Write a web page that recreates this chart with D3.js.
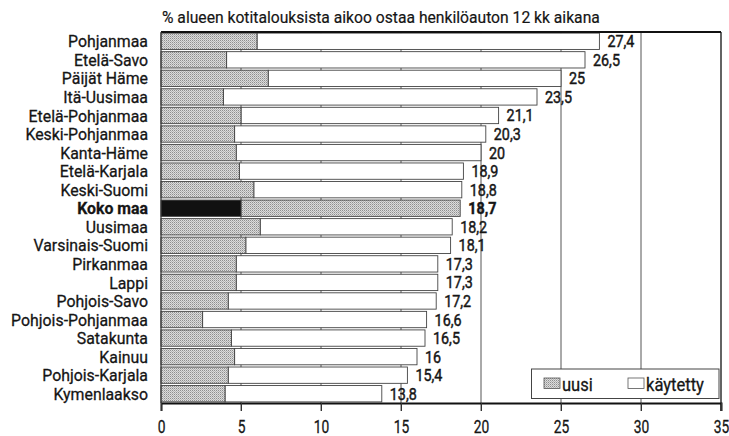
<!DOCTYPE html>
<html><head><meta charset="utf-8">
<script src="https://cdn.jsdelivr.net/npm/d3@7"></script>
<style>
html,body{margin:0;padding:0;background:#fff;}
svg{display:block;}
text{font-family:Roboto,"Noto Sans",sans-serif;fill:#151515;stroke:#151515;stroke-width:0.3px;}
</style></head>
<body>
<svg id="c" width="729" height="436"></svg>
<script>
const title = "% alueen kotitalouksista aikoo ostaa henkilöauton 12 kk aikana";
const categories = ["Pohjanmaa","Etelä-Savo","Päijät Häme","Itä-Uusimaa","Etelä-Pohjanmaa","Keski-Pohjanmaa","Kanta-Häme","Etelä-Karjala","Keski-Suomi","Koko maa","Uusimaa","Varsinais-Suomi","Pirkanmaa","Lappi","Pohjois-Savo","Pohjois-Pohjanmaa","Satakunta","Kainuu","Pohjois-Karjala","Kymenlaakso"];
const totals = [27.4,26.5,25,23.5,21.1,20.3,20,18.9,18.8,18.7,18.2,18.1,17.3,17.3,17.2,16.6,16.5,16,15.4,13.8];
const uusi = [6.0,4.1,6.7,3.9,5.0,4.6,4.7,4.9,5.8,5.0,6.2,5.3,4.7,4.7,4.2,2.6,4.4,4.6,4.2,4.0];
const totalLabels = ["27,4","26,5","25","23,5","21,1","20,3","20","18,9","18,8","18,7","18,2","18,1","17,3","17,3","17,2","16,6","16,5","16","15,4","13,8"];
const xTicks = [0,5,10,15,20,25,30,35];
const seriesNames = ["uusi","käytetty"];
const highlight = "Koko maa";

const svg = d3.select("#c");
const L = 161, R = 721, T = 32, B = 403;
const x = d3.scaleLinear().domain([0,35]).range([L,R]);
const y = d3.scaleBand().domain(categories).range([T,B]).paddingInner(0.12).paddingOuter(0.06);

function condense(str, size, weight, target){
  const t = svg.append("text").attr("font-size",size).attr("font-weight",weight).text(str);
  const w = t.node().getComputedTextLength();
  t.remove();
  return target / w;
}
const fsCat = 17.2, fsVal = 16.4, fsTick = 18, fsTitle = 17, fsLeg = 18;
const kCat = condense("Pohjanmaa", fsCat, "normal", 80);
const kVal = condense("27,4", fsVal, "normal", 27);
const kTick = condense("20", fsTick, "normal", 15.5);
const kTitle = condense(title, fsTitle, "normal", 438);
const kLeg = condense("käytetty", fsLeg, "normal", 58);

const defs = svg.append("defs");
const p = defs.append("pattern").attr("id","dots").attr("width",2).attr("height",2).attr("patternUnits","userSpaceOnUse");
p.append("rect").attr("width",2).attr("height",2).attr("fill","#dcdcdc");
p.append("rect").attr("width",1).attr("height",1).attr("fill","#8e8e8e");
p.append("rect").attr("x",1).attr("y",1).attr("width",1).attr("height",1).attr("fill","#b4b4b4");

svg.append("text").attr("transform",`translate(162,23) scale(${kTitle},1)`).attr("font-size",fsTitle)
  .style("stroke-width","0.2px").text(title);

svg.append("g").selectAll("line").data(xTicks.filter(d=>d>0)).join("line")
  .attr("x1",d=>x(d)).attr("x2",d=>x(d)).attr("y1",T).attr("y2",B+8)
  .attr("stroke",d=>d===35?"#222":"#555").attr("stroke-width",d=>d===35?1.4:1);

const rows = categories.map((c,i)=>({c, u:uusi[i], t:totals[i], lab:totalLabels[i]}));
const g = svg.append("g");
g.selectAll("rect.k").data(rows).join("rect").attr("class","k")
  .attr("x",d=>x(d.u)).attr("width",d=>x(d.t)-x(d.u))
  .attr("y",d=>y(d.c)).attr("height",y.bandwidth())
  .attr("fill",d=>d.c===highlight?"url(#dots)":"#fff")
  .attr("stroke","#444").attr("stroke-width",0.9);
g.selectAll("rect.u").data(rows).join("rect").attr("class","u")
  .attr("x",x(0)).attr("width",d=>x(d.u)-x(0))
  .attr("y",d=>y(d.c)).attr("height",y.bandwidth())
  .attr("fill",d=>d.c===highlight?"#111":"url(#dots)")
  .attr("stroke","#444").attr("stroke-width",0.9);

g.selectAll("text.v").data(rows).join("text").attr("class","v")
  .attr("transform",d=>`translate(${x(d.t)+8},${y(d.c)+y.bandwidth()/2+6}) scale(${kVal},1)`)
  .attr("font-size",fsVal).attr("font-weight",d=>d.c===highlight?"bold":"normal")
  .style("stroke-width","0.45px")
  .text(d=>d.lab);

g.selectAll("text.c").data(rows).join("text").attr("class","c")
  .attr("transform",d=>`translate(${L-13},${y(d.c)+y.bandwidth()/2+6.1}) scale(${kCat},1)`)
  .attr("text-anchor","end").attr("font-size",fsCat)
  .attr("font-weight",d=>d.c===highlight?"bold":"normal")
  .text(d=>d.c);

svg.append("line").attr("x1",L).attr("x2",R).attr("y1",T).attr("y2",T).attr("stroke","#111").attr("stroke-width",2);
svg.append("line").attr("x1",L).attr("x2",L).attr("y1",T).attr("y2",B).attr("stroke","#333").attr("stroke-width",1.2);

const ax = svg.append("g").attr("transform",`translate(0,${B})`)
  .call(d3.axisBottom(x).tickValues(xTicks).tickSize(8).tickFormat(d3.format("d")));
ax.select(".domain").attr("stroke","#111").attr("stroke-width",2);
ax.selectAll(".tick line").attr("stroke","#333");
ax.selectAll(".tick text").attr("font-size",fsTick).attr("dy",0).attr("y",0)
  .attr("transform",`translate(0,30) scale(${kTick},1)`).attr("fill","#151515")
  .style("font-family",'Roboto,"Noto Sans",sans-serif');

const lg = svg.append("g");
lg.append("rect").attr("x",531.5).attr("y",369).attr("width",187.5).attr("height",29.5)
  .attr("fill","#fff").attr("stroke","#444").attr("stroke-width",1);
const items = [{n:seriesNames[0], f:"url(#dots)", x:544},{n:seriesNames[1], f:"#fff", x:628}];
items.forEach(it=>{
  lg.append("rect").attr("x",it.x).attr("y",378).attr("width",16).attr("height",10.5)
    .attr("fill",it.f).attr("stroke","#555").attr("stroke-width",0.8);
  lg.append("text").attr("transform",`translate(${it.x+18},390.5) scale(${kLeg},1)`).attr("font-size",fsLeg).text(it.n);
});
</script>
</body></html>
